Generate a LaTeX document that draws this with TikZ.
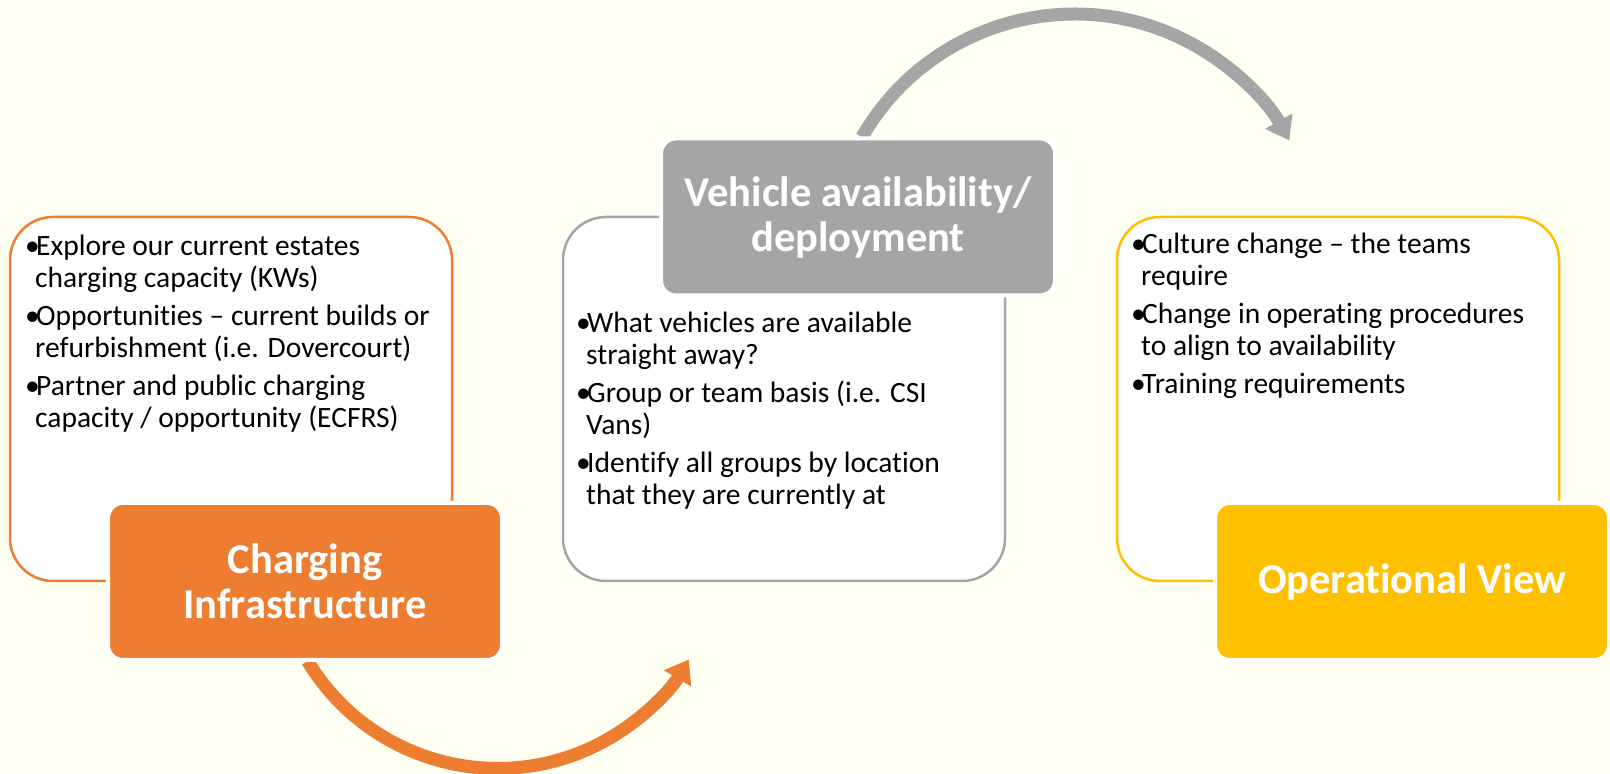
\documentclass[tikz,border=0pt]{standalone}
\usepackage{fontspec}
\setmainfont{Carlito}[Ligatures={TeX,NoCommon}]
\usetikzlibrary{arrows.meta,positioning}
\definecolor{bgcream}{HTML}{FFFFF2}
\definecolor{chgorange}{HTML}{ED7D31}
\definecolor{vehgray}{HTML}{A5A5A5}
\definecolor{opyellow}{HTML}{FFC000}
\tikzset{
  panel/.style={draw=#1, line width=2.5pt, fill=white, rounded corners=43pt,
    minimum width=442pt, minimum height=364pt, inner sep=0pt},
  header/.style={fill=#1, draw=white, line width=4pt, rounded corners=15pt,
    minimum width=394pt, minimum height=157pt, inner sep=0pt, text=white,
    font=\fontsize{42.5}{45}\selectfont\bfseries, align=center},
  bullets/.style={anchor=north west, inner sep=0pt, align=left,
    font=\fontsize{29.5}{32}\selectfont},
  cyclearrow/.style={draw=#1, line width=13pt,
    -{Triangle[width=30pt,length=22pt]}},
}
\newcommand{\bul}{\makebox[11pt][l]{\textbullet}}
\newcommand{\ind}{\hspace*{10pt}}
\begin{document}
\begin{tikzpicture}[x=1pt,y=1pt]
  \fill[bgcream] (0,0) rectangle (1610,774);
  \useasboundingbox (0,0) rectangle (1610,774);
  % panels
  \node[panel=chgorange] (chgpanel) at (231,375) {};
  \node[panel=vehgray] (vehpanel) at (784,375) {};
  \node[panel=opyellow] (oppanel) at (1338,375) {};
  % bullet texts
  \node[bullets] (chgtext) at (25,541) {\strut\bul Explore our current estates\\
    \ind charging capacity (KWs)\\[6pt]
    \bul Opportunities – current builds or\\
    \ind refurbishment (i.e. Dovercourt)\\[6pt]
    \bul Partner and public charging\\
    \ind capacity / opportunity (ECFRS)};
  \node[bullets] (vehtext) at (576,464) {\strut\bul What vehicles are available\\
    \ind straight away?\\[6pt]
    \bul Group or team basis (i.e. CSI\\
    \ind Vans)\\[6pt]
    \bul Identify all groups by location\\
    \ind that they are currently at};
  \node[bullets] (optext) at (1131,543) {\strut\bul Culture change – the teams\\
    \ind require\\[6pt]
    \bul Change in operating procedures\\
    \ind to align to availability\\[6pt]
    \bul Training requirements};
  % arrows between the steps
  \coordinate (chgarc) at (307.6,112.9);
  \coordinate (veharc) at (862,636.9);
  \draw[cyclearrow=chgorange] (chgarc) arc[start angle=211.1, end angle=329.4, radius=222];
  \draw[cyclearrow=vehgray] (veharc) arc[start angle=150.1, end angle=29, radius=245.4];
  % headers
  \node[header=chgorange] (chghead) at (305,192.5) {Charging\\Infrastructure};
  \node[header=vehgray] (vehhead) at (858,557) {Vehicle availability/\\deployment};
  \node[header=opyellow] (ophead) at (1412,192.5) {Operational View};
\end{tikzpicture}
\end{document}
